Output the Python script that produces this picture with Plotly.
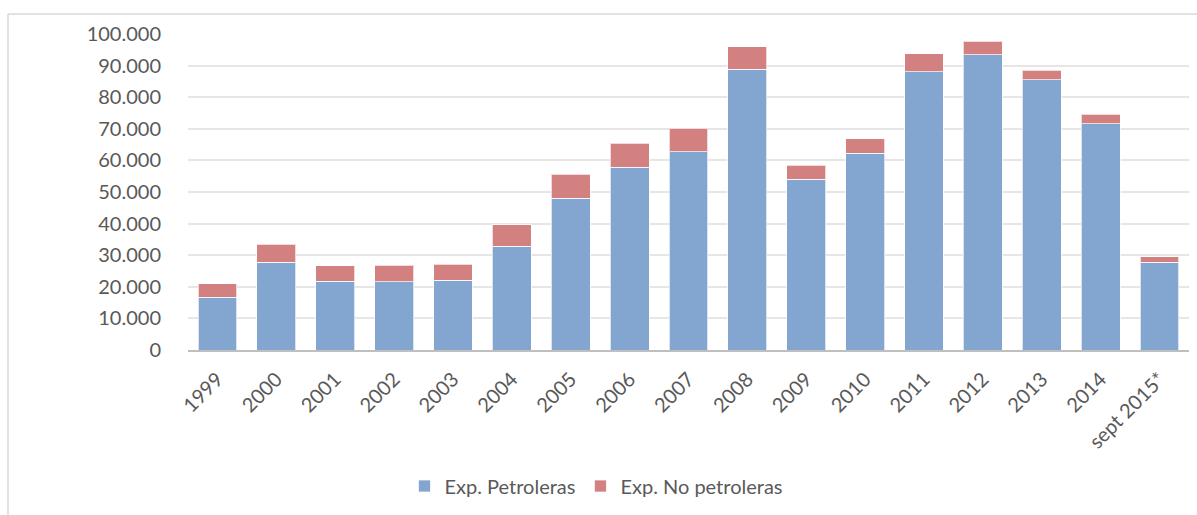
import plotly.graph_objects as go

categories = ["1999", "2000", "2001", "2002", "2003", "2004", "2005", "2006", "2007",
              "2008", "2009", "2010", "2011", "2012", "2013", "2014", "sept 2015*"]
petroleras = [16700, 27800, 21700, 21600, 22000, 32900, 48100, 57900, 62800,
              88900, 54100, 62200, 88100, 93500, 85600, 71600, 27800]
totales = [20900, 33500, 26600, 26800, 27200, 39600, 55600, 65400, 70100,
           96000, 58500, 66800, 93700, 97700, 88600, 74600, 29500]
no_petroleras = [t - p for t, p in zip(totales, petroleras)]

W, H = 1197, 515
L, R, T, B = 188, 8, 34, 165
pw, ph = W - L - R, H - T - B

def px(x):
    return (x - L) / pw

def py(y):
    return (H - B - y) / ph

font_family = "Lato, 'Open Sans', sans-serif"
text_color = "#595959"

fig = go.Figure()
fig.add_trace(go.Bar(
    x=categories, y=petroleras, name="Exp. Petroleras",
    marker=dict(color="rgb(130,166,208)", line=dict(color="rgba(255,255,255,0.7)", width=1)),
))
fig.add_trace(go.Bar(
    x=categories, y=no_petroleras, name="Exp. No petroleras",
    marker=dict(color="rgb(211,128,128)", line=dict(color="rgba(255,255,255,0.7)", width=1)),
))

fig.update_layout(
    width=W, height=H,
    margin=dict(l=L, r=R, t=T, b=B, autoexpand=False),
    barmode="stack", bargap=0.34,
    plot_bgcolor="white", paper_bgcolor="white",
    separators=",.",
    font=dict(family=font_family, color=text_color, size=20),
    showlegend=True,
    legend=dict(orientation="h", x=px(596), xanchor="center", y=py(486), yanchor="middle",
                font=dict(size=20, color=text_color), traceorder="normal"),
    shapes=[
        dict(type="line", xref="paper", yref="paper", x0=px(8), x1=px(1197), y0=py(14), y1=py(14),
             line=dict(color="#D9D9D9", width=1.5)),
        dict(type="line", xref="paper", yref="paper", x0=px(8), x1=px(8), y0=py(14), y1=py(515),
             line=dict(color="#D9D9D9", width=1.5)),
    ],
)
fig.update_xaxes(
    tickangle=-45, tickfont=dict(size=20, color=text_color),
    showline=True, linecolor="#BFBFBF", linewidth=1.5, showgrid=False, ticks="",
    ticklabelstandoff=8,
)
fig.update_yaxes(
    range=[0, 100000], dtick=10000, tickformat=",d",
    tickfont=dict(size=20, color=text_color),
    showgrid=True, gridcolor="#E6E6E6", gridwidth=1.5,
    zeroline=False, showline=False, ticks="", ticklabelstandoff=26,
)

fig.write_html("out.html")
